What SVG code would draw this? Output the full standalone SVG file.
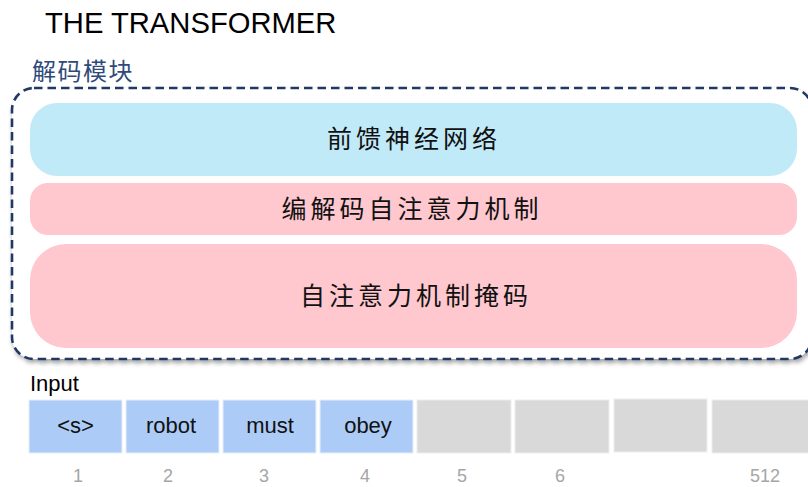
<svg xmlns="http://www.w3.org/2000/svg" width="808" height="487" viewBox="0 0 808 487">
<defs>
<style>
.lat{font-family:"Liberation Sans",Arial,sans-serif;}
.cjk{font-family:"Noto Sans CJK SC","Noto Sans CJK TC",sans-serif;}
.layer{font-size:25px;letter-spacing:4px;fill:#111;text-anchor:middle;}
.cell-blue{fill:#ADCBF7;stroke:#E8F0FB;stroke-width:1;}
.cell-gray{fill:#D9D9D9;stroke:#EEEEEE;stroke-width:1;}
.tok{font-size:22px;fill:#111;text-anchor:middle;}
.num{font-size:18px;fill:#A6A6A6;text-anchor:middle;}
</style>
<filter id="shadow" x="-5%" y="-5%" width="110%" height="115%">
<feDropShadow dx="1.5" dy="3" stdDeviation="2" flood-color="#000" flood-opacity="0.35"/>
</filter>
</defs>
<rect width="808" height="487" fill="#FFFFFF"/>
<text class="lat" x="45" y="33" font-size="29.2" fill="#000">THE TRANSFORMER</text>
<g id="decoder-block">
<text class="cjk" x="32" y="80" font-size="24" letter-spacing="1.5" fill="#2F4A7A">解码模块</text>
<rect x="12" y="88" width="800" height="271" rx="22" ry="22" fill="#FFFFFF" stroke="#203864" stroke-width="2.6" stroke-dasharray="8.5,5" filter="url(#shadow)"/>
</g>
<g id="ffn">
<rect x="30" y="103" width="767" height="73" rx="27" ry="27" fill="#C1EAF9"/>
<text class="cjk layer" x="414" y="148">前馈神经网络</text>
</g>
<g id="enc-dec-attn">
<rect x="30" y="183" width="767" height="52" rx="18" ry="18" fill="#FFC7CE"/>
<text class="cjk layer" x="412" y="218">编解码自注意力机制</text>
</g>
<g id="masked-self-attn">
<rect x="30" y="244" width="767" height="104" rx="36" ry="36" fill="#FFC7CE"/>
<text class="cjk layer" x="416" y="305">自注意力机制掩码</text>
</g>
<g id="connectors"></g>
<g id="input">
<text class="lat" x="30" y="391" font-size="22" fill="#000">Input</text>
<g id="tok1"><rect class="cell-blue" x="29" y="400" width="93" height="53"/><text class="lat tok" x="75.5" y="433">&lt;s&gt;</text></g>
<g id="tok2"><rect class="cell-blue" x="126" y="400" width="93" height="53"/><text class="lat tok" x="171" y="433">robot</text></g>
<g id="tok3"><rect class="cell-blue" x="223" y="400" width="93" height="53"/><text class="lat tok" x="270" y="433">must</text></g>
<g id="tok4"><rect class="cell-blue" x="320" y="400" width="93" height="53"/><text class="lat tok" x="368" y="433">obey</text></g>
<g id="tok5"><rect class="cell-gray" x="417" y="400" width="94" height="53"/></g>
<g id="tok6"><rect class="cell-gray" x="515" y="400" width="94" height="53"/></g>
<g id="tok7"><rect class="cell-gray" x="614" y="399" width="93" height="53"/></g>
<g id="tok8"><rect class="cell-gray" x="712" y="400" width="100" height="53"/></g>
<text class="lat num" x="78" y="482">1</text>
<text class="lat num" x="168" y="482">2</text>
<text class="lat num" x="264" y="482">3</text>
<text class="lat num" x="365" y="482">4</text>
<text class="lat num" x="462" y="482">5</text>
<text class="lat num" x="560" y="482">6</text>
<text class="lat num" x="765" y="482">512</text>
</g>
</svg>
